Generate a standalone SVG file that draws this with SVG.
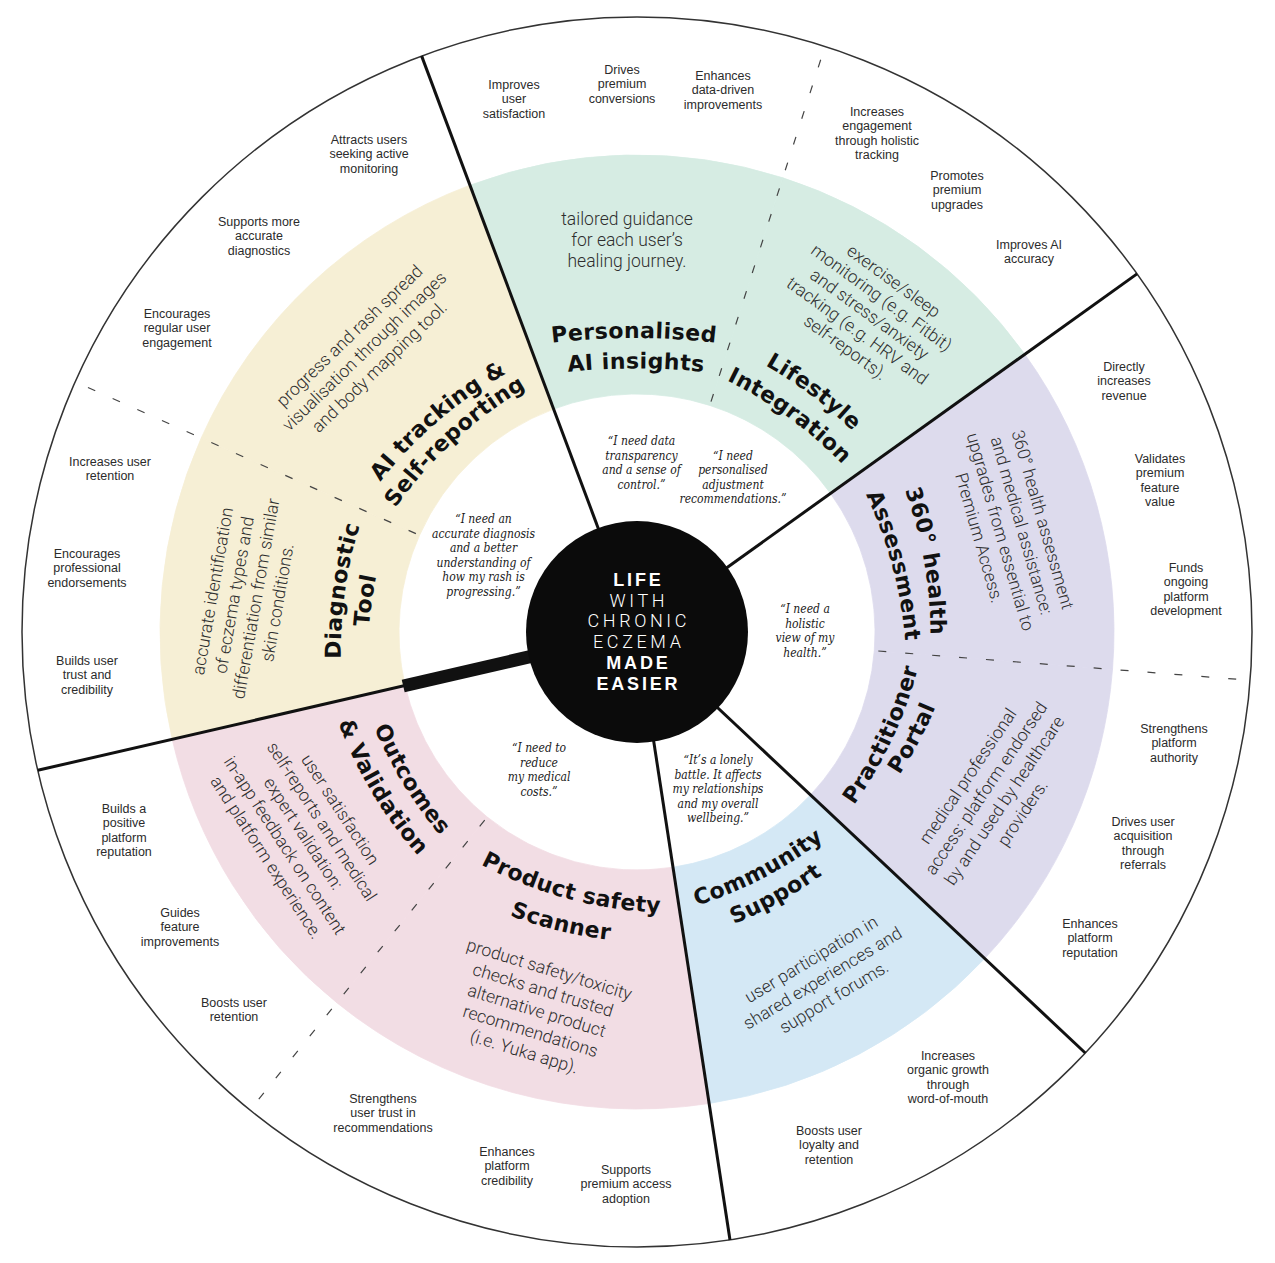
<svg xmlns="http://www.w3.org/2000/svg" width="1275" height="1263" viewBox="0 0 1275 1263">
<defs>
<style>
.o{font-family:'Liberation Sans',Arial,sans-serif;font-size:12.5px;fill:#2b2b2b;text-anchor:middle}
.t{font-family:'DejaVu Sans','Liberation Sans',sans-serif;font-weight:bold;font-size:22px;letter-spacing:0.4px;fill:#111;text-anchor:middle}
.d{font-family:Roboto,'Liberation Sans',sans-serif;font-weight:300;font-size:17.5px;fill:#2e2e2e;text-anchor:middle}
.q{font-family:'DejaVu Serif Condensed','DejaVu Serif',serif;font-stretch:condensed;font-style:italic;font-size:12px;fill:#1a1a1a;text-anchor:middle}
.cb{font-family:'Liberation Sans',Arial,sans-serif;font-weight:bold;font-size:18px;fill:#fff;text-anchor:middle;letter-spacing:2.8px}
.cl{font-family:Roboto,'Liberation Sans',sans-serif;font-weight:300;font-size:18px;fill:#fff;text-anchor:middle;letter-spacing:3.6px}
.div{stroke:#111;stroke-width:3;fill:none}
.dash{stroke:#444;stroke-width:1.2;stroke-dasharray:8 19;fill:none}
.ye{fill:#f6efd5;stroke:#f6efd5;stroke-width:0.8}
.gr{fill:#d6ece3;stroke:#d6ece3;stroke-width:0.8}
.pu{fill:#dddbed;stroke:#dddbed;stroke-width:0.8}
.bl{fill:#d4e8f5;stroke:#d4e8f5;stroke-width:0.8}
.pk{fill:#f2dde4;stroke:#f2dde4;stroke-width:0.8}
</style>
<path id="frown" d="M -200 58.7 A 420 420 0 0 1 200 58.7"/>
<path id="frownflat" d="M -200 37.2 A 700 700 0 0 1 200 37.2"/>
<path id="smile" d="M -200 -42.7 A 420 420 0 0 0 200 -42.7"/>
</defs>
<rect width="1275" height="1263" fill="#fff"/>
<circle cx="637" cy="632" r="615" fill="none" stroke="#333" stroke-width="1.5"/>

<g id="node-diagnostic-tool">
<path class="ye" d="M 172.2 739.3 A 477 477 0 0 1 201.2 438.0 L 419.6 535.2 A 238 238 0 0 0 405.1 685.54 Z"/>
<g transform="translate(337,590) rotate(-82)"><text class="t"><textPath href="#frown" startOffset="50%">Diagnostic</textPath></text></g>
<g transform="translate(364,600) rotate(-82)"><text class="t"><textPath href="#frown" startOffset="50%">Tool</textPath></text></g>
<text class="d" transform="translate(246,597) rotate(-80)"><tspan x="0" y="-28">accurate identification</tspan><tspan x="0" y="-6">of eczema types and</tspan><tspan x="0" y="16">differentiation from similar</tspan><tspan x="0" y="38">skin conditions.</tspan></text>
<text class="q"><tspan x="483.5" y="523">“I need an</tspan><tspan x="483.5" y="537.5">accurate diagnosis</tspan><tspan x="483.5" y="552">and a better</tspan><tspan x="483.5" y="566.5">understanding of</tspan><tspan x="483.5" y="581">how my rash is</tspan><tspan x="483.5" y="595.5">progressing.”</tspan></text>
<text class="o"><tspan x="110" y="465.5">Increases user</tspan><tspan x="110" dy="14.5">retention</tspan></text>
<text class="o"><tspan x="87" y="557.5">Encourages</tspan><tspan x="87" dy="14.5">professional</tspan><tspan x="87" dy="14.5">endorsements</tspan></text>
<text class="o"><tspan x="87" y="664.5">Builds user</tspan><tspan x="87" dy="14.5">trust and</tspan><tspan x="87" dy="14.5">credibility</tspan></text>
</g>

<g id="node-ai-tracking">
<path class="ye" d="M 201.2 438.0 A 477 477 0 0 1 469.95 185.21 L 553.65 409.07 A 238 238 0 0 0 419.6 535.2 Z"/>
<g transform="translate(433,415) rotate(-40.6)"><text class="t"><textPath href="#frown" startOffset="50%">AI tracking &amp;</textPath></text></g>
<g transform="translate(449,435) rotate(-42.5)"><text class="t"><textPath href="#frown" startOffset="50%">Self-reporting</textPath></text></g>
<text class="d" transform="translate(365,352) rotate(-44)"><tspan x="0" y="-16.5">progress and rash spread</tspan><tspan x="0" y="5">visualisation through images</tspan><tspan x="0" y="26.5">and body mapping tool.</tspan></text>
<text class="o"><tspan x="369" y="143.5">Attracts users</tspan><tspan x="369" dy="14.5">seeking active</tspan><tspan x="369" dy="14.5">monitoring</tspan></text>
<text class="o"><tspan x="259" y="225.5">Supports more</tspan><tspan x="259" dy="14.5">accurate</tspan><tspan x="259" dy="14.5">diagnostics</tspan></text>
<text class="o"><tspan x="177" y="317.5">Encourages</tspan><tspan x="177" dy="14.5">regular user</tspan><tspan x="177" dy="14.5">engagement</tspan></text>
</g>

<g id="node-personalised-ai">
<path class="gr" d="M 469.95 185.21 A 477 477 0 0 1 782.8 177.8 L 709.8 405.4 A 238 238 0 0 0 553.65 409.07 Z"/>
<g transform="translate(634,330)"><text class="t"><textPath href="#frownflat" startOffset="50%">Personalised</textPath></text></g>
<g transform="translate(636,360.5)"><text class="t"><textPath href="#frownflat" startOffset="50%">AI insights</textPath></text></g>
<text class="d"><tspan x="627" y="225">tailored guidance</tspan><tspan x="627" y="246">for each user’s</tspan><tspan x="627" y="267">healing journey.</tspan></text>
<text class="q"><tspan x="641.5" y="445">“I need data</tspan><tspan x="641.5" y="459.5">transparency</tspan><tspan x="641.5" y="474">and a sense of</tspan><tspan x="641.5" y="488.5">control.”</tspan></text>
<text class="o"><tspan x="514" y="88.5">Improves</tspan><tspan x="514" dy="14.5">user</tspan><tspan x="514" dy="14.5">satisfaction</tspan></text>
<text class="o"><tspan x="622" y="73.5">Drives</tspan><tspan x="622" dy="14.5">premium</tspan><tspan x="622" dy="14.5">conversions</tspan></text>
<text class="o"><tspan x="723" y="79.5">Enhances</tspan><tspan x="723" dy="14.5">data-driven</tspan><tspan x="723" dy="14.5">improvements</tspan></text>
</g>

<g id="node-lifestyle">
<path class="gr" d="M 782.8 177.8 A 477 477 0 0 1 1024.81 354.26 L 830.5 493.42 A 238 238 0 0 0 709.8 405.4 Z"/>
<g transform="translate(816,389) rotate(37)"><text class="t"><textPath href="#frown" startOffset="50%">Lifestyle</textPath></text></g>
<g transform="translate(793,411) rotate(36)"><text class="t"><textPath href="#frown" startOffset="50%">Integration</textPath></text></g>
<text class="d" transform="translate(869,315) rotate(36)"><tspan x="0" y="-36">exercise/sleep</tspan><tspan x="0" y="-15.5">monitoring (e.g. Fitbit)</tspan><tspan x="0" y="5">and stress/anxiety</tspan><tspan x="0" y="25.5">tracking (e.g. HRV and</tspan><tspan x="0" y="46">self-reports).</tspan></text>
<text class="q"><tspan x="733" y="459.5">“I need</tspan><tspan x="733" y="474">personalised</tspan><tspan x="733" y="488.5">adjustment</tspan><tspan x="733" y="503">recommendations.”</tspan></text>
<text class="o"><tspan x="877" y="115.5">Increases</tspan><tspan x="877" dy="14.5">engagement</tspan><tspan x="877" dy="14.5">through holistic</tspan><tspan x="877" dy="14.5">tracking</tspan></text>
<text class="o"><tspan x="957" y="179.5">Promotes</tspan><tspan x="957" dy="14.5">premium</tspan><tspan x="957" dy="14.5">upgrades</tspan></text>
<text class="o"><tspan x="1029" y="248.5">Improves AI</tspan><tspan x="1029" dy="14.5">accuracy</tspan></text>
</g>

<g id="node-360-assessment">
<path class="pu" d="M 1024.81 354.26 A 477 477 0 0 1 1112.5 669.4 L 874.3 650.7 A 238 238 0 0 0 830.5 493.42 Z"/>
<g transform="translate(932,560) rotate(80)"><text class="t"><textPath href="#frown" startOffset="50%">360° health</textPath></text></g>
<g transform="translate(900,564) rotate(75)"><text class="t"><textPath href="#frown" startOffset="50%">Assessment</textPath></text></g>
<text class="d" transform="translate(1010,529) rotate(74)"><tspan x="0" y="-28">360° health assessment</tspan><tspan x="0" y="-6">and medical assistance:</tspan><tspan x="0" y="16">upgrades from essential to</tspan><tspan x="0" y="38">Premium Access.</tspan></text>
<text class="q"><tspan x="805" y="613">“I need a</tspan><tspan x="805" y="627.5">holistic</tspan><tspan x="805" y="642">view of my</tspan><tspan x="805" y="656.5">health.”</tspan></text>
<text class="o"><tspan x="1124" y="370.5">Directly</tspan><tspan x="1124" dy="14.5">increases</tspan><tspan x="1124" dy="14.5">revenue</tspan></text>
<text class="o"><tspan x="1160" y="462.5">Validates</tspan><tspan x="1160" dy="14.5">premium</tspan><tspan x="1160" dy="14.5">feature</tspan><tspan x="1160" dy="14.5">value</tspan></text>
<text class="o"><tspan x="1186" y="571.5">Funds</tspan><tspan x="1186" dy="14.5">ongoing</tspan><tspan x="1186" dy="14.5">platform</tspan><tspan x="1186" dy="14.5">development</tspan></text>
</g>

<g id="node-practitioner-portal">
<path class="pu" d="M 1112.5 669.4 A 477 477 0 0 1 984.72 958.53 L 810.49 794.92 A 238 238 0 0 0 874.3 650.7 Z"/>
<g transform="translate(885,736) rotate(-65)"><text class="t"><textPath href="#smile" startOffset="50%">Practitioner</textPath></text></g>
<g transform="translate(912,738) rotate(-62)"><text class="t"><textPath href="#smile" startOffset="50%">Portal</textPath></text></g>
<text class="d" transform="translate(996,795) rotate(-56)"><tspan x="0" y="-28">medical professional</tspan><tspan x="0" y="-6">access: platform endorsed</tspan><tspan x="0" y="16">by and used by healthcare</tspan><tspan x="0" y="38">providers.</tspan></text>
<text class="o"><tspan x="1174" y="732.5">Strengthens</tspan><tspan x="1174" dy="14.5">platform</tspan><tspan x="1174" dy="14.5">authority</tspan></text>
<text class="o"><tspan x="1143" y="825.5">Drives user</tspan><tspan x="1143" dy="14.5">acquisition</tspan><tspan x="1143" dy="14.5">through</tspan><tspan x="1143" dy="14.5">referrals</tspan></text>
<text class="o"><tspan x="1090" y="927.5">Enhances</tspan><tspan x="1090" dy="14.5">platform</tspan><tspan x="1090" dy="14.5">reputation</tspan></text>
</g>

<g id="node-community-support">
<path class="bl" d="M 984.72 958.53 A 477 477 0 0 1 709.15 1103.51 L 673.0 867.26 A 238 238 0 0 0 810.49 794.92 Z"/>
<g transform="translate(759.5,871) rotate(-27.5)"><text class="t"><textPath href="#smile" startOffset="50%">Community</textPath></text></g>
<g transform="translate(776,895) rotate(-29)"><text class="t"><textPath href="#smile" startOffset="50%">Support</textPath></text></g>
<text class="d" transform="translate(823,979) rotate(-31)"><tspan x="0" y="-17">user participation in</tspan><tspan x="0" y="5">shared experiences and</tspan><tspan x="0" y="27">support forums.</tspan></text>
<text class="q"><tspan x="718" y="764">“It’s a lonely</tspan><tspan x="718" y="778.5">battle. It affects</tspan><tspan x="718" y="793">my relationships</tspan><tspan x="718" y="807.5">and my overall</tspan><tspan x="718" y="822">wellbeing.”</tspan></text>
<text class="o"><tspan x="948" y="1059.5">Increases</tspan><tspan x="948" dy="14.5">organic growth</tspan><tspan x="948" dy="14.5">through</tspan><tspan x="948" dy="14.5">word-of-mouth</tspan></text>
<text class="o"><tspan x="829" y="1134.5">Boosts user</tspan><tspan x="829" dy="14.5">loyalty and</tspan><tspan x="829" dy="14.5">retention</tspan></text>
</g>

<g id="node-product-safety">
<path class="pk" d="M 709.15 1103.51 A 477 477 0 0 1 336.8 1002.7 L 487.2 817.0 A 238 238 0 0 0 673.0 867.26 Z"/>
<g transform="translate(570,891) rotate(15)"><text class="t"><textPath href="#smile" startOffset="50%">Product safety</textPath></text></g>
<g transform="translate(561,923) rotate(13.6)"><text class="t"><textPath href="#smile" startOffset="50%">Scanner</textPath></text></g>
<text class="d" transform="translate(536.5,1011.5) rotate(17)"><tspan x="0" y="-38">product safety/toxicity</tspan><tspan x="0" y="-16.5">checks and trusted</tspan><tspan x="0" y="5">alternative product</tspan><tspan x="0" y="26.5">recommendations</tspan><tspan x="0" y="48">(i.e. Yuka app).</tspan></text>
<text class="q"><tspan x="539" y="752">“I need to</tspan><tspan x="539" y="766.5">reduce</tspan><tspan x="539" y="781">my medical</tspan><tspan x="539" y="795.5">costs.”</tspan></text>
<text class="o"><tspan x="383" y="1102.5">Strengthens</tspan><tspan x="383" dy="14.5">user trust in</tspan><tspan x="383" dy="14.5">recommendations</tspan></text>
<text class="o"><tspan x="507" y="1155.5">Enhances</tspan><tspan x="507" dy="14.5">platform</tspan><tspan x="507" dy="14.5">credibility</tspan></text>
<text class="o"><tspan x="626" y="1173.5">Supports</tspan><tspan x="626" dy="14.5">premium access</tspan><tspan x="626" dy="14.5">adoption</tspan></text>
</g>

<g id="node-outcomes-validation">
<path class="pk" d="M 336.8 1002.7 A 477 477 0 0 1 172.2 739.3 L 405.1 685.54 A 238 238 0 0 0 487.2 817.0 Z"/>
<g transform="translate(410,780) rotate(58.5)"><text class="t"><textPath href="#smile" startOffset="50%">Outcomes</textPath></text></g>
<g transform="translate(379,789) rotate(59)"><text class="t"><textPath href="#smile" startOffset="50%">&amp; Validation</textPath></text></g>
<text class="d" transform="translate(302.5,834) rotate(57)"><tspan x="0" y="-39">user satisfaction</tspan><tspan x="0" y="-17">self-reports and medical</tspan><tspan x="0" y="5">expert validation:</tspan><tspan x="0" y="27">in-app feedback on content</tspan><tspan x="0" y="49">and platform experience.</tspan></text>
<text class="o"><tspan x="124" y="812.5">Builds a</tspan><tspan x="124" dy="14.5">positive</tspan><tspan x="124" dy="14.5">platform</tspan><tspan x="124" dy="14.5">reputation</tspan></text>
<text class="o"><tspan x="180" y="916.5">Guides</tspan><tspan x="180" dy="14.5">feature</tspan><tspan x="180" dy="14.5">improvements</tspan></text>
<text class="o"><tspan x="234" y="1006.5">Boosts user</tspan><tspan x="234" dy="14.5">retention</tspan></text>
</g>

<g id="connectors">
<line class="dash" x1="711.0" y1="401.6" x2="821.9" y2="56.0"/>
<line class="dash" x1="878.3" y1="651.0" x2="1240.1" y2="679.5"/>
<line class="dash" x1="484.7" y1="820.1" x2="256.3" y2="1102.2"/>
<line class="dash" x1="415.9" y1="533.6" x2="84.3" y2="385.9"/>
<line class="div" x1="637" y1="632" x2="421.6" y2="55.9"/>
<line class="div" x1="637" y1="632" x2="1137.0" y2="273.9"/>
<line class="div" x1="637" y1="632" x2="1085.3" y2="1053.0"/>
<line class="div" x1="637" y1="632" x2="730.0" y2="1239.9"/>
<line class="div" x1="637" y1="632" x2="37.8" y2="770.3"/>
<line x1="637" y1="632" x2="403.2" y2="686.0" stroke="#111" stroke-width="13"/>
</g>

<g id="node-center">
<circle cx="637" cy="632" r="111" fill="#0b0b0b"/>
<text class="cb" x="638.4" y="586">LIFE</text>
<text class="cl" x="638.8" y="607">WITH</text>
<text class="cl" x="638.8" y="627">CHRONIC</text>
<text class="cl" x="638.8" y="648">ECZEMA</text>
<text class="cb" x="638.4" y="669">MADE</text>
<text class="cb" x="638.4" y="690">EASIER</text>
</g>
</svg>
